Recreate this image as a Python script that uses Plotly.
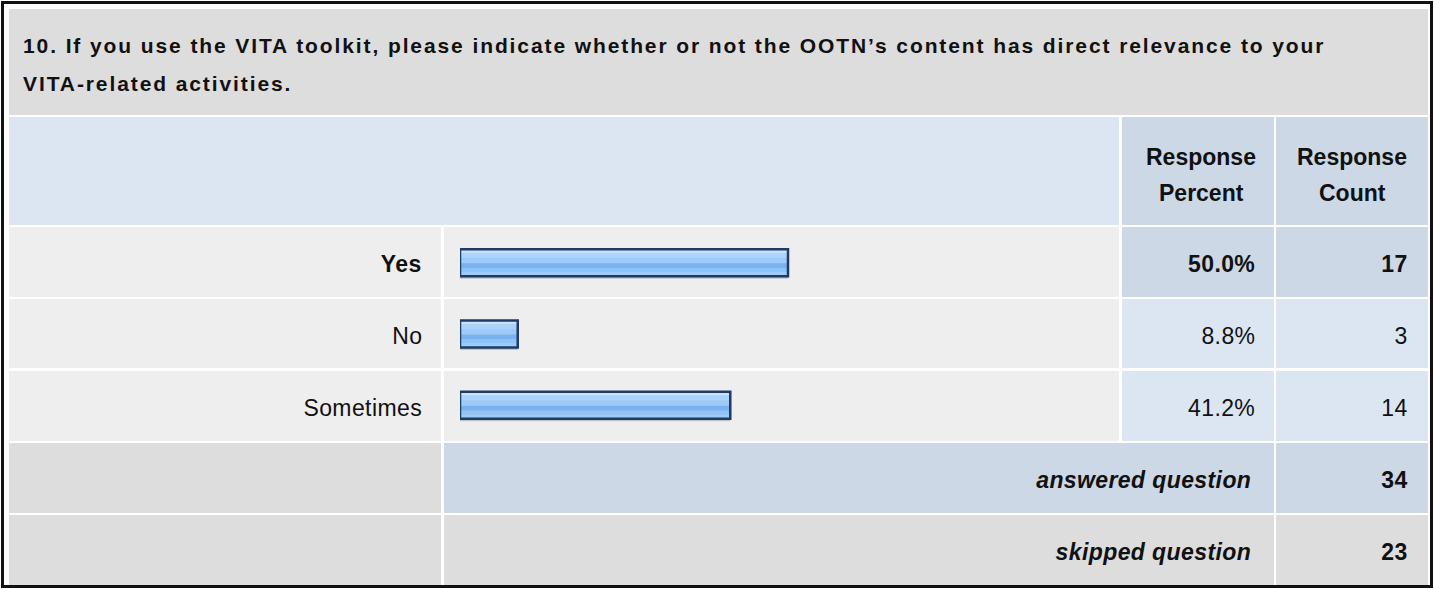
import plotly.graph_objects as go

# ---------------- data ----------------
title_line1 = "10. If you use the VITA toolkit, please indicate whether or not the OOTN\u2019s content has direct relevance to your"
title_line2 = "VITA-related activities."
categories = ["Yes", "No", "Sometimes"]
percents = [50.0, 8.8, 41.2]
counts = [17, 3, 14]
answered_label = "answered question"
answered_count = 34
skipped_label = "skipped question"
skipped_count = 23
header_percent = ["Response", "Percent"]
header_count = ["Response", "Count"]

# ---------------- layout geometry (pixels) ----------------
W, H = 1434, 589
FONT = "Liberation Sans, Arial, sans-serif"
TXT = "#111111"
GRAY = "#DDDDDD"
LIGHT = "#EEEEEE"
BLUE1 = "#DCE6F3"
BLUE2 = "#CCD8E6"
BODY = 23

# columns: label, bar, percent, count
C_LAB = (9, 441)
C_BAR = (444, 1119)
C_PCT = (1122, 1274)
C_CNT = (1276, 1428)
R_TITLE = (9, 115)
R_HEAD = (117, 225)
R_ROWS = [(227, 297), (299, 368), (371, 441)]
R_ANS = (443, 513)
R_SKIP = (515, 585)


def px(x):
    return x / W


def py(y):
    return 1 - y / H


shapes = []


def cell(x0, x1, y0, y1, color):
    shapes.append(dict(type="rect", xref="paper", yref="paper",
                       x0=px(x0), x1=px(x1), y0=py(y1), y1=py(y0),
                       fillcolor=color, line=dict(width=0), layer="below"))


annotations = []


def text(s, x, y, anchor="right", size=BODY, bold=False, italic=False, name=None):
    annotations.append(dict(text=s, xref="paper", yref="paper", x=px(x), y=py(y),
                            xanchor=anchor, yanchor="middle", showarrow=False,
                            align=anchor if anchor != "center" else "center",
                            name=name,
                            font=dict(family=FONT, size=size, color=TXT,
                                      weight="bold" if bold else "normal",
                                      style="italic" if italic else "normal")))


# outer border
shapes.append(dict(type="rect", xref="paper", yref="paper",
                   x0=px(2.5), x1=px(1431.5), y0=py(586.5), y1=py(2.5),
                   line=dict(color="#111111", width=3), fillcolor="rgba(0,0,0,0)"))

# title row
cell(C_LAB[0], C_CNT[1], *R_TITLE, GRAY)
text(title_line1, 21, 46, anchor="left", size=21, bold=True, name="title")
text(title_line2, 21, 83, anchor="left", size=21, bold=True, name="title")

# header row
cell(C_LAB[0], C_BAR[1], *R_HEAD, BLUE1)
cell(*C_PCT, *R_HEAD, BLUE2)
cell(*C_CNT, *R_HEAD, BLUE2)
for i, (a, b) in enumerate(zip(header_percent, header_count)):
    yy = 157 + i * 36
    text(a, (C_PCT[0] + C_PCT[1]) / 2 + 3, yy, anchor="center", bold=True)
    text(b, (C_CNT[0] + C_CNT[1]) / 2, yy, anchor="center", bold=True)

# answer rows
top_pct = max(percents)
for cat, p, c, (y0, y1) in zip(categories, percents, counts, R_ROWS):
    is_top = p == top_pct
    cell(*C_LAB, y0, y1, LIGHT)
    cell(*C_BAR, y0, y1, LIGHT)
    cell(*C_PCT, y0, y1, BLUE2 if is_top else BLUE1)
    cell(*C_CNT, y0, y1, BLUE2 if is_top else BLUE1)
    yc = (y0 + y1) / 2 + 2
    text(cat, C_LAB[1] - 17, yc, bold=is_top)
    text(f"{p:.1f}%", C_PCT[1] - 17, yc, bold=is_top)
    text(str(c), C_CNT[1] - 18, yc, bold=is_top)

# answered / skipped rows
cell(*C_LAB, *R_ANS, GRAY)
cell(C_BAR[0], C_PCT[1], *R_ANS, BLUE2)
cell(*C_CNT, *R_ANS, BLUE2)
ya = (R_ANS[0] + R_ANS[1]) / 2 + 2
text(answered_label, C_PCT[1] - 21, ya, bold=True, italic=True)
text(str(answered_count), C_CNT[1] - 18, ya, bold=True)

cell(*C_LAB, *R_SKIP, GRAY)
cell(C_BAR[0], C_PCT[1], *R_SKIP, GRAY)
cell(*C_CNT, *R_SKIP, GRAY)
ys = (R_SKIP[0] + R_SKIP[1]) / 2 + 2
text(skipped_label, C_PCT[1] - 21, ys, bold=True, italic=True)
text(str(skipped_count), C_CNT[1] - 18, ys, bold=True)

# ---------------- bars ----------------
fig = go.Figure()
ROW_H = (R_ROWS[-1][1] - R_ROWS[0][0]) / len(categories)
BW = 27 / ROW_H  # inner bar thickness in category units
stripes = [(0.00, 0.14, "#C8E2FF"), (0.14, 0.32, "#AAD4FD"), (0.32, 0.52, "#9CCBFB"),
           (0.52, 0.70, "#7AB2F0"), (0.70, 0.85, "#8CC3F8"), (0.85, 1.00, "#9BCCFA")]
# subtle drop shadow
fig.add_trace(go.Bar(y=categories, x=percents, orientation="h",
                     offset=-BW / 2 + 2 / ROW_H, width=BW + 0.5 / ROW_H,
                     marker=dict(color="rgba(60,70,90,0.25)", line=dict(width=0)),
                     xaxis="x", yaxis="y", hoverinfo="skip", showlegend=False))
for f0, f1, col in stripes:
    fig.add_trace(go.Bar(y=categories, x=percents, orientation="h",
                         offset=-BW / 2 + f0 * BW, width=(f1 - f0) * BW,
                         marker=dict(color=col, line=dict(width=0)),
                         xaxis="x", yaxis="y", hoverinfo="skip", showlegend=False))
fig.add_trace(go.Bar(y=categories, x=percents, orientation="h",
                     offset=-BW / 2, width=BW,
                     marker=dict(color="rgba(0,0,0,0)", line=dict(color="#1F3B63", width=2.5)),
                     xaxis="x", yaxis="y", hoverinfo="skip", showlegend=False))

BAR_X0, BAR_FULL = 460, 656
fig.update_layout(
    width=W, height=H, margin=dict(l=0, r=0, t=0, b=0),
    paper_bgcolor="white", plot_bgcolor="rgba(0,0,0,0)",
    barmode="overlay", showlegend=False,
    xaxis=dict(domain=[px(BAR_X0), px(BAR_X0 + BAR_FULL)], range=[0, 100],
               visible=False, fixedrange=True),
    yaxis=dict(domain=[py(R_ROWS[-1][1]), py(R_ROWS[0][0])], range=[2.5, -0.5],
               categoryorder="array", categoryarray=categories,
               visible=False, fixedrange=True),
    shapes=shapes, annotations=annotations,
)

post = """
document.body.style.margin = '0px';
document.body.style.overflow = 'hidden';
var ts = document.querySelectorAll('.annotation-text');
for (var i = 0; i < ts.length; i++) {
  var t = ts[i].textContent;
  if (t.indexOf('VITA') === 0 || t.indexOf('10.') === 0) {
    ts[i].setAttribute('letter-spacing', '1.9px');
  } else if (ts[i].getAttribute('text-anchor') === 'end') {
    ts[i].setAttribute('letter-spacing', '0.4px');
  }
}
"""
fig.write_html("out.html", config={"displayModeBar": False}, post_script=post)
